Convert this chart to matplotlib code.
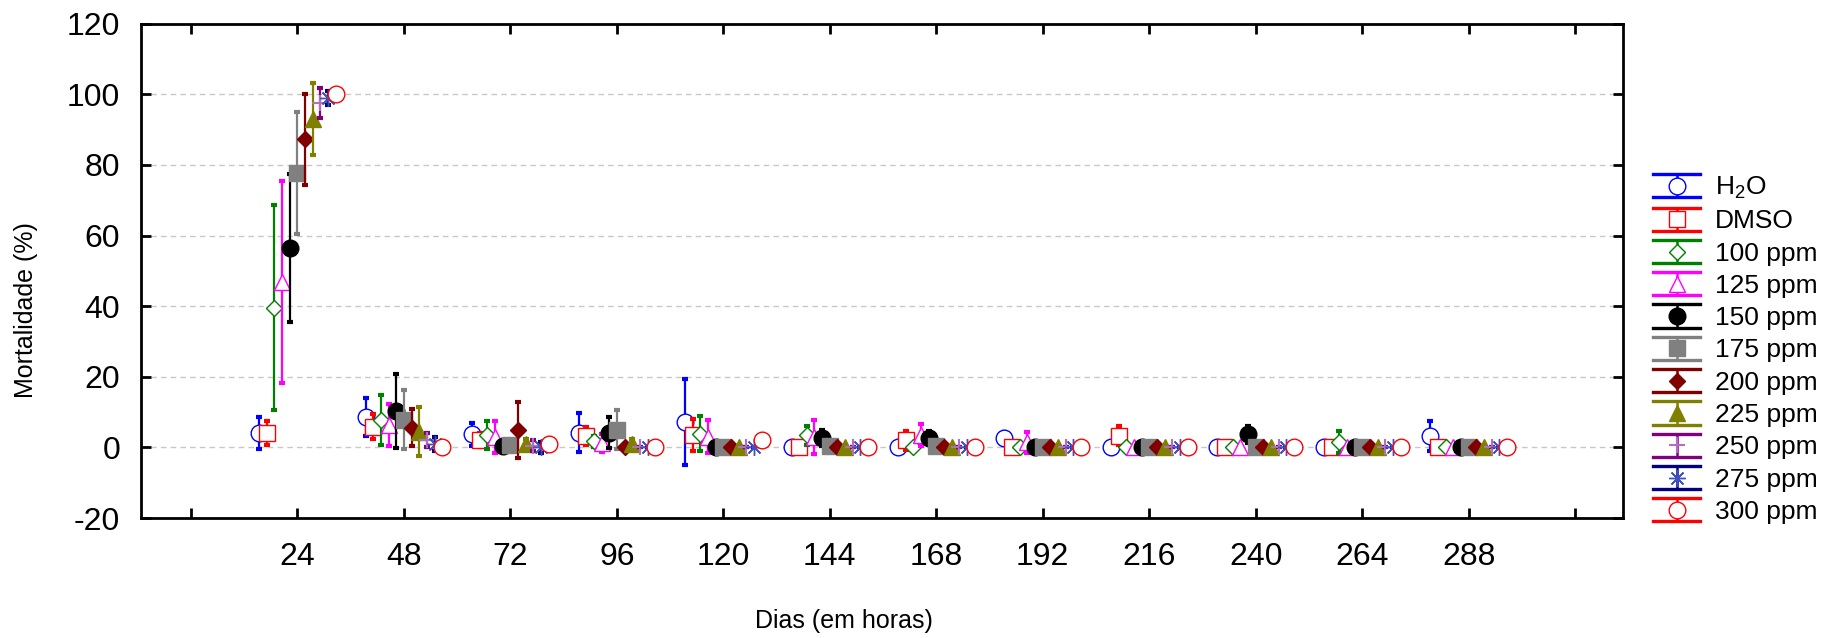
import numpy as np
import matplotlib
matplotlib.use("Agg")
import matplotlib.pyplot as plt
from matplotlib.lines import Line2D
from matplotlib.legend_handler import HandlerBase
from matplotlib import font_manager

# ---------------- data ----------------
hours = [24, 48, 72, 96, 120, 144, 168, 192, 216, 240, 264, 288]
series_names = ['H$_2$O', 'DMSO', '100 ppm', '125 ppm', '150 ppm', '175 ppm',
                '200 ppm', '225 ppm', '250 ppm', '275 ppm', '300 ppm']

h2o_mean   = [4.0, 8.7, 3.7, 4.2, 7.3, 0.0, 0.0, 2.6, 0.0, 0.0, 0.0, 3.3]
h2o_err    = [4.5, 5.4, 3.3, 5.5, 12.2, 0.0, 0.0, 1.8, 0.0, 0.0, 0.0, 4.3]
dmso_mean  = [4.0, 5.9, 2.0, 3.3, 3.5, 0.0, 2.0, 0.0, 3.3, 0.0, 0.0, 0.0]
dmso_err   = [3.4, 3.5, 2.0, 2.5, 4.6, 0.0, 2.6, 0.0, 2.7, 0.0, 0.0, 0.0]
p100_mean  = [39.5, 7.8, 3.5, 1.7, 3.9, 3.5, 0.0, 0.0, 0.0, 0.0, 1.5, 0.0]
p100_err   = [29.0, 7.0, 3.9, 1.5, 5.0, 2.7, 0.0, 0.0, 0.0, 0.0, 3.1, 0.0]
p125_mean  = [46.8, 6.3, 3.0, 1.2, 3.0, 3.0, 3.5, 1.5, 0.0, 0.0, 0.0, 0.0]
p125_err   = [28.6, 6.0, 4.6, 2.5, 4.7, 4.8, 3.0, 3.0, 0.0, 0.0, 0.0, 0.0]
p150_mean  = [56.5, 10.3, 0.3, 4.2, 0.0, 2.6, 2.6, 0.0, 0.0, 3.7, 0.0, 0.0]
p150_err   = [21.0, 10.5, 0.0, 4.3, 0.0, 2.3, 2.0, 0.0, 0.0, 2.5, 0.0, 0.0]
p175_mean  = [77.8, 7.9, 0.8, 5.0, 0.0, 0.3, 0.3, 0.0, 0.0, 0.0, 0.0, 0.0]
p175_err   = [17.3, 8.3, 0.0, 5.5, 0.0, 0.0, 0.0, 0.0, 0.0, 0.0, 0.0, 0.0]
p200_mean  = [87.2, 5.6, 4.9, 0.0, 0.0, 0.0, 0.0, 0.0, 0.0, 0.0, 0.0, 0.0]
p200_err   = [13.0, 5.2, 8.0, 0.0, 0.0, 0.0, 0.0, 0.0, 0.0, 0.0, 0.0, 0.0]
p225_mean  = [93.0, 4.5, 1.0, 1.0, 0.0, 0.0, 0.0, 0.0, 0.0, 0.0, 0.0, 0.0]
p225_err   = [10.3, 7.0, 1.5, 1.5, 0.0, 0.0, 0.0, 0.0, 0.0, 0.0, 0.0, 0.0]
p250_mean  = [97.5, 2.0, 0.5, 0.0, 0.0, 0.0, 0.0, 0.0, 0.0, 0.0, 0.0, 0.0]
p250_err   = [4.3, 2.0, 1.5, 0.0, 0.0, 0.0, 0.0, 0.0, 0.0, 0.0, 0.0, 0.0]
p275_mean  = [99.0, 1.0, 0.0, 0.0, 0.0, 0.0, 0.0, 0.0, 0.0, 0.0, 0.0, 0.0]
p275_err   = [2.0, 2.0, 1.5, 0.0, 0.0, 0.0, 0.0, 0.0, 0.0, 0.0, 0.0, 0.0]
p300_mean  = [100.0, 0.0, 1.0, 0.0, 2.0, 0.0, 0.0, 0.0, 0.0, 0.0, 0.0, 0.0]
p300_err   = [0.0, 0.0, 0.0, 0.0, 0.0, 0.0, 0.0, 0.0, 0.0, 0.0, 0.0, 0.0]

means = [h2o_mean, dmso_mean, p100_mean, p125_mean, p150_mean, p175_mean,
         p200_mean, p225_mean, p250_mean, p275_mean, p300_mean]
errs = [h2o_err, dmso_err, p100_err, p125_err, p150_err, p175_err,
        p200_err, p225_err, p250_err, p275_err, p300_err]

# ---------------- styles ----------------
bar_colors = ['#0000ff', '#ff0000', '#008000', '#ff00ff', '#000000', '#808080',
              '#800000', '#808000', '#800080', '#000080', '#ff0000']
marker_edge = ['#0000ff', '#ff0000', '#008000', '#ff00ff', '#000000', '#808080',
               '#800000', '#808000', '#b070c0', '#4050c0', '#ff0000']
marker_face = ['white', 'white', 'white', 'white', '#000000', '#808080',
               '#800000', '#808000', 'none', 'none', 'white']
markers = ['o', 's', 'D', '^', 'o', 's', 'D', '^', '+', (8, 2, 0), 'o']
msizes = [12, 11.5, 8.5, 12, 12, 11.5, 8.5, 12, 12, 12, 12]
mews = [1, 1, 1, 1, 1, 1, 1, 1, 1.5, 1, 1]

avail = {f.name for f in font_manager.fontManager.ttflist}
main_font = 'Liberation Sans' if 'Liberation Sans' in avail else 'DejaVu Sans'
plt.rcParams['font.family'] = [main_font, 'DejaVu Sans']
plt.rcParams['mathtext.default'] = 'regular'
plt.rcParams['axes.unicode_minus'] = False

fig = plt.figure(figsize=(18.45, 6.38), dpi=100)
ax = fig.add_axes([0.0764, 0.188, 0.8033, 0.775])

positions = np.arange(1, len(hours) + 1)
n = len(means)
step = 0.072
handles = []
for i in range(n):
    off = (i - (n - 1) / 2) * step
    ax.errorbar(positions + off, means[i], yerr=errs[i], fmt='none',
                ecolor=bar_colors[i], elinewidth=1.6, capsize=2, capthick=3,
                zorder=3 + 2 * i)
    ax.plot(positions + off, means[i], linestyle='none', marker=markers[i],
            markersize=msizes[i], mfc=marker_face[i], mec=marker_edge[i],
            mew=mews[i], zorder=4 + 2 * i)
    h = Line2D([], [], color=bar_colors[i], marker=markers[i], markersize=msizes[i],
               mfc=marker_face[i], mec=marker_edge[i], mew=mews[i])
    handles.append(h)


class ErrbarHandler(HandlerBase):
    def create_artists(self, legend, orig_handle, xdescent, ydescent, width,
                       height, fontsize, trans):
        c = orig_handle.get_color()
        x0, x1 = -xdescent, width - xdescent
        y0, y1 = -ydescent, height - ydescent
        xm, ym = (x0 + x1) / 2, (y0 + y1) / 2
        arts = [Line2D([x0, x1], [y0, y0], color=c, lw=2.4),
                Line2D([x0, x1], [y1, y1], color=c, lw=2.4),
                Line2D([xm, xm], [y0, y1], color=c, lw=1.8),
                Line2D([xm], [ym], linestyle='none', marker=orig_handle.get_marker(),
                       markersize=orig_handle.get_markersize(),
                       mfc=orig_handle.get_markerfacecolor(),
                       mec=orig_handle.get_markeredgecolor(),
                       mew=orig_handle.get_markeredgewidth())]
        for a in arts:
            a.set_transform(trans)
        return arts


ax.set_xlim(-0.47, 13.45)
ax.set_ylim(-20, 120)
ax.set_yticks(np.arange(-20, 121, 20))
ax.set_xticks(np.arange(0, 14))
ax.set_xticklabels([''] + [str(h) for h in hours] + [''], fontsize=23)
ax.tick_params(axis='y', labelsize=23, pad=15)
ax.tick_params(axis='x', pad=17)
ax.tick_params(direction='in', length=7, width=2, top=True, right=True)
for s in ax.spines.values():
    s.set_linewidth(2)
ax.yaxis.grid(True, linestyle=(0, (4, 3)), color='#c8c8c8', lw=1, zorder=0)
ax.set_axisbelow(True)

ax.set_ylabel('Mortalidade (%)', fontsize=18)
ax.yaxis.set_label_coords(-0.0776, 0.42)
ax.yaxis.label.set_verticalalignment('center')
ax.set_xlabel('Dias (em horas)', fontsize=18)
ax.xaxis.set_label_coords(0.474, -0.208)
ax.xaxis.label.set_verticalalignment('center')

fig.legend(handles, series_names, handler_map={Line2D: ErrbarHandler()},
           loc='center left', bbox_to_anchor=(0.896, 0.453), frameon=False,
           fontsize=19, handlelength=1.78, handleheight=0.98, labelspacing=0.25,
           handletextpad=0.57, borderpad=0, borderaxespad=0)

fig.savefig('out.png', dpi=100)
